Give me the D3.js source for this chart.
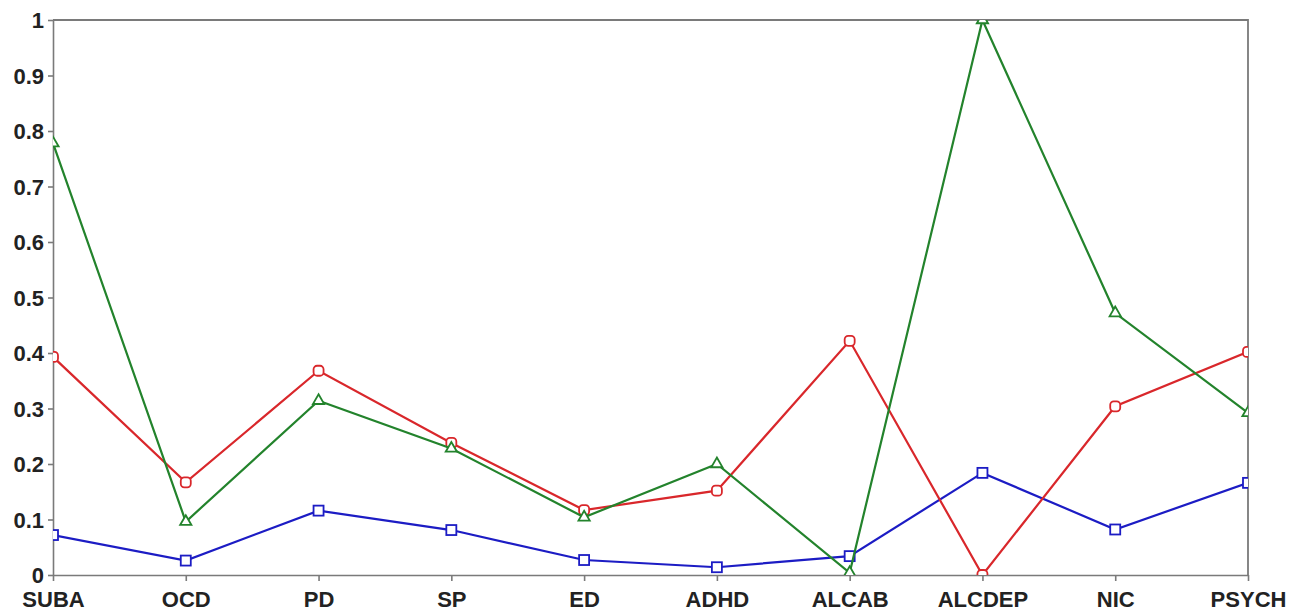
<!DOCTYPE html>
<html>
<head>
<meta charset="utf-8">
<script src="https://cdn.jsdelivr.net/npm/d3@7"></script>
<style>
  body { margin: 0; background: #fff; }
  .axis text { font-family: "Liberation Sans", Arial, sans-serif; font-size: 22px; font-weight: bold; fill: #222; }
  .axis path, .axis line { stroke: #7a7a7a; stroke-width: 1.6px; }
</style>
</head>
<body>
<div id="chart"></div>
<script>
const width = 1294,
    height = 612,
    margin = { top: 20, right: 46, bottom: 37, left: 53 };

const categories = ['SUBA', 'OCD', 'PD', 'SP', 'ED', 'ADHD', 'ALCAB', 'ALCDEP', 'NIC', 'PSYCH'];
const yTicks = [0, 0.1, 0.2, 0.3, 0.4, 0.5, 0.6, 0.7, 0.8, 0.9, 1];

const blueValues = [0.072, 0.026, 0.116, 0.081, 0.027, 0.014, 0.034, 0.184, 0.082, 0.166];
const redValues = [0.393, 0.167, 0.368, 0.238, 0.117, 0.152, 0.422, 0.0, 0.304, 0.402];
const greenValues = [0.778, 0.096, 0.314, 0.228, 0.104, 0.2, 0.004, 1.0, 0.472, 0.292];

const series = [
    { name: 'blue', values: blueValues, color: '#1c1cc4', marker: 'square' },
    { name: 'red', values: redValues, color: '#d9272b', marker: 'round' },
    { name: 'green', values: greenValues, color: '#23832c', marker: 'triangle' }
];

const svg = d3.select('#chart')
    .append('svg')
    .attr('width', width)
    .attr('height', height);

const xScale = d3.scalePoint()
    .domain(categories)
    .range([margin.left, width - margin.right]);

const yScale = d3.scaleLinear()
    .domain([0, 1])
    .range([height - margin.bottom, margin.top]);

// clip everything to the plot box, markers on the edges get cut
svg.append('clipPath')
    .attr('id', 'plotClip')
    .append('rect')
    .attr('x', margin.left)
    .attr('y', margin.top)
    .attr('width', width - margin.right - margin.left)
    .attr('height', height - margin.bottom - margin.top);

// top & right frame
svg.append('path')
    .attr('d', 'M' + margin.left + ',' + margin.top + 'H' + (width - margin.right) + 'V' + (height - margin.bottom))
    .attr('fill', 'none')
    .attr('stroke', '#7a7a7a')
    .attr('stroke-width', 1.8);

const xAxis = d3.axisBottom(xScale).tickSize(6).tickPadding(10).tickSizeOuter(0);
const yAxis = d3.axisLeft(yScale).tickValues(yTicks).tickFormat(d3.format('')).tickSize(5).tickPadding(4).tickSizeOuter(0);

svg.append('g')
    .attr('class', 'axis')
    .attr('transform', 'translate(0,' + (height - margin.bottom) + ')')
    .call(xAxis);

svg.append('g')
    .attr('class', 'axis')
    .attr('transform', 'translate(' + margin.left + ',0)')
    .call(yAxis)
    .selectAll('text')
    .attr('dy', '0.36em');

const plot = svg.append('g').attr('clip-path', 'url(#plotClip)');

const line = d3.line()
    .x((d, i) => xScale(categories[i]))
    .y(d => yScale(d));

series.forEach(s => {
    const g = plot.append('g');
    g.append('path')
        .datum(s.values)
        .attr('d', line)
        .attr('fill', 'none')
        .attr('stroke', s.color)
        .attr('stroke-width', 2.2);

    const pts = g.selectAll('.pt')
        .data(s.values)
        .enter();

    if (s.marker === 'triangle') {
        pts.append('path')
            .attr('d', d3.symbol().type(d3.symbolTriangle).size(55))
            .attr('transform', (d, i) => 'translate(' + xScale(categories[i]) + ',' + yScale(d) + ')')
            .attr('fill', '#fff')
            .attr('stroke', s.color)
            .attr('stroke-width', 1.8);
    } else {
        pts.append('rect')
            .attr('x', (d, i) => xScale(categories[i]) - 5)
            .attr('y', d => yScale(d) - 5)
            .attr('width', 10)
            .attr('height', 10)
            .attr('rx', s.marker === 'round' ? 3.5 : 0)
            .attr('fill', '#fff')
            .attr('stroke', s.color)
            .attr('stroke-width', 1.8);
    }
});
</script>
</body>
</html>
